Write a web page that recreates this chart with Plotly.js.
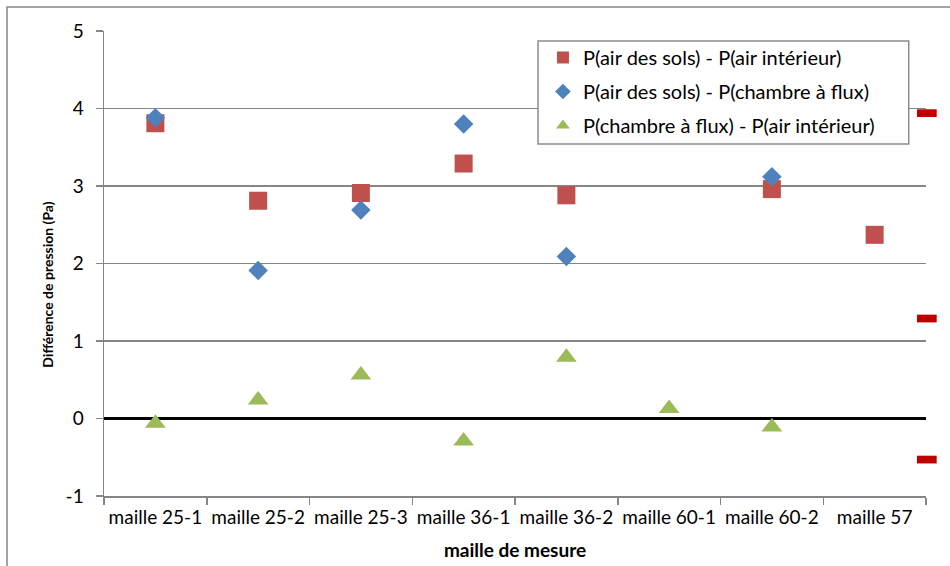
<!DOCTYPE html>
<html>
<head>
<meta charset="utf-8">
<script src="https://cdn.plot.ly/plotly-3.0.1.min.js"></script>
<style>
  html, body { margin: 0; padding: 0; background: #fff; }
  #chart { width: 950px; height: 566px; }
</style>
</head>
<body>
<div id="chart"></div>
<script>
// Measurement cells
const categories = ['maille 25-1', 'maille 25-2', 'maille 25-3', 'maille 36-1',
                    'maille 36-2', 'maille 60-1', 'maille 60-2', 'maille 57'];

// Pressure differences (Pa)
const solMinusInterieur = [3.81, 2.81, 2.91, 3.29, 2.88, null, 2.96, 2.37];
const solMinusChambre   = [3.88, 1.91, 2.69, 3.80, 2.09, null, 3.12, null];
const chambreMinusInterieur = [-0.06, 0.24, 0.56, -0.29, 0.79, 0.13, -0.11, null];

const seriesNames = [
  'P(air des sols) - P(air intérieur)',
  'P(air des sols) - P(chambre à flux)',
  'P(chambre à flux) - P(air intérieur)'
];

// Pressure axis ticks
const yTickValues = [-1, 0, 1, 2, 3, 4, 5];
const yTickLabels = ['-1', '0', '1', '2', '3', '4', '5'];

// Short red marks sitting on the right edge of the plot (Pa)
const edgeMarks = [3.94, 1.29, -0.53];

const FONT = 'Lato, "Open Sans", sans-serif';
const GRID = '#868686';

const traces = [
  {
    x: categories, y: solMinusInterieur, name: seriesNames[0],
    type: 'scatter', mode: 'markers', legendgroup: 'a',
    marker: { symbol: 'square', size: 18, color: '#C0504D' }
  },
  {
    x: categories, y: solMinusChambre, name: seriesNames[1],
    type: 'scatter', mode: 'markers', legendgroup: 'b',
    marker: { symbol: 'diamond', size: 15, color: '#4F81BD' }
  },
  {
    x: categories, y: chambreMinusInterieur, name: seriesNames[2],
    type: 'scatter', mode: 'markers', legendgroup: 'c',
    marker: { symbol: 'triangle-up', size: 18, color: '#9BBB59' }
  }
];

const shapes = [
  // outer chart frame
  {
    type: 'rect', xref: 'paper', yref: 'paper',
    x0: -0.118, x1: 1.3, y0: -0.4, y1: 1.0516,
    line: { color: GRID, width: 1.5 }, fillcolor: 'rgba(0,0,0,0)', layer: 'below'
  },
  // legend box
  {
    type: 'rect', xref: 'paper', yref: 'paper',
    x0: 0.528, x1: 0.979, y0: 0.757, y1: 0.9785,
    line: { color: '#8c8c8c', width: 1.5 }, fillcolor: '#fff', layer: 'above'
  }
].concat(edgeMarks.map(v => ({
  type: 'rect', xref: 'paper', yref: 'y',
  x0: 0.989, x1: 1.013, y0: v - 0.05, y1: v + 0.05,
  line: { width: 0 }, fillcolor: '#C00000', layer: 'above'
})));

const layout = {
  width: 950, height: 566,
  margin: { l: 104, r: 24, t: 31, b: 70 },
  paper_bgcolor: '#fff', plot_bgcolor: '#fff',
  font: { family: FONT, size: 18, color: '#000' },
  showlegend: true,
  legend: {
    x: 0.534, xanchor: 'left', y: 0.985, yanchor: 'top',
    bgcolor: 'rgba(0,0,0,0)', borderwidth: 0,
    font: { family: FONT, size: 20, color: '#000' },
    traceorder: 'grouped', tracegroupgap: 5,
    itemsizing: 'constant'
  },
  xaxis: {
    type: 'category', categoryorder: 'array', categoryarray: categories,
    range: [-0.5, 7.5],
    showgrid: false, zeroline: false,
    showline: true, linecolor: GRID, linewidth: 1.5,
    ticks: 'outside', tickson: 'boundaries', ticklen: 7, tickcolor: GRID, tickwidth: 1.5,
    tickangle: 0, ticklabelstandoff: 4,
    tickfont: { family: FONT, size: 19, color: '#000' },
    title: { text: 'maille de mesure', font: { family: FONT, size: 19, color: '#000', weight: 'bold' }, standoff: 16 }
  },
  yaxis: {
    range: [-1, 5], tickmode: 'array', tickvals: yTickValues, ticktext: yTickLabels,
    showgrid: true, gridcolor: GRID, gridwidth: 1.3,
    zeroline: true, zerolinecolor: '#000', zerolinewidth: 2.5,
    showline: true, linecolor: GRID, linewidth: 1.5,
    ticks: 'outside', ticklen: 7, tickcolor: GRID, tickwidth: 1.5,
    ticklabelstandoff: 8,
    tickfont: { family: FONT, size: 19, color: '#000' }
  },
  annotations: [
    {
      text: '<b>Différence de pression (Pa)</b>',
      xref: 'paper', yref: 'paper', x: -0.069, y: 0.455,
      xanchor: 'center', yanchor: 'middle', textangle: -90, showarrow: false,
      font: { family: FONT, size: 14, color: '#000' }
    }
  ],
  shapes: shapes
};

Plotly.newPlot('chart', traces, layout, { displayModeBar: false, staticPlot: true });
</script>
</body>
</html>
